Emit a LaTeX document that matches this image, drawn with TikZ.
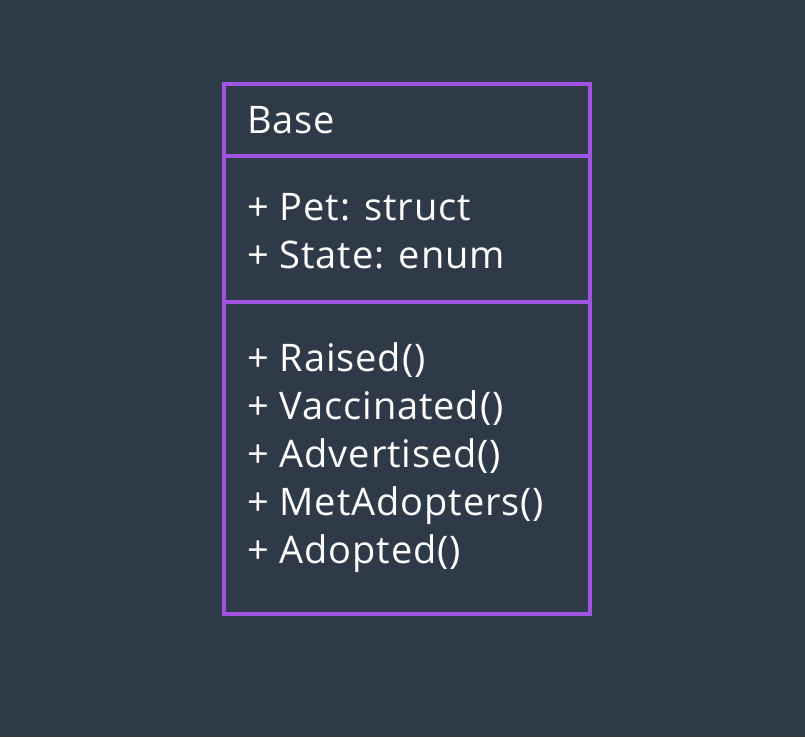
\documentclass[tikz,border=0pt]{standalone}
\usepackage{fontspec}
\setmainfont{Open Sans}[LetterSpace=2.4]
\definecolor{bgc}{RGB}{46,58,72}
\definecolor{umlp}{RGB}{160,84,228}
\begin{document}
\begin{tikzpicture}[x=1pt,y=-1pt,
  txt/.style={anchor=base west,inner sep=0pt,text=white,font=\fontsize{38}{48}\selectfont},
  frame/.style={draw=umlp,line width=4pt}]
\fill[bgc] (0,0) rectangle (805,737);
\useasboundingbox (0,0) rectangle (805,737);
\coordinate (tl) at (224,84); \coordinate (br) at (589.5,613.5);
\draw[frame] (tl) rectangle (br);
\coordinate (d1l) at (224,156); \coordinate (d1r) at (589.5,156);
\coordinate (d2l) at (224,302); \coordinate (d2r) at (589.5,302);
\draw[frame] (d1l) -- (d1r);
\draw[frame] (d2l) -- (d2r);
\node[txt] (name) at (247,133) {Base};
\node[txt] (a1) at (247,220) {+ Pet: struct};
\node[txt] (a2) at (247,268) {+ State: enum};
\node[txt] (m1) at (247,371) {+ Raised()};
\node[txt] (m2) at (247,419) {+ Vaccinated()};
\node[txt] (m3) at (247,467) {+ Advertised()};
\node[txt] (m4) at (247,515) {+ MetAdopters()};
\node[txt] (m5) at (247,563) {+ Adopted()};
\end{tikzpicture}
\end{document}
